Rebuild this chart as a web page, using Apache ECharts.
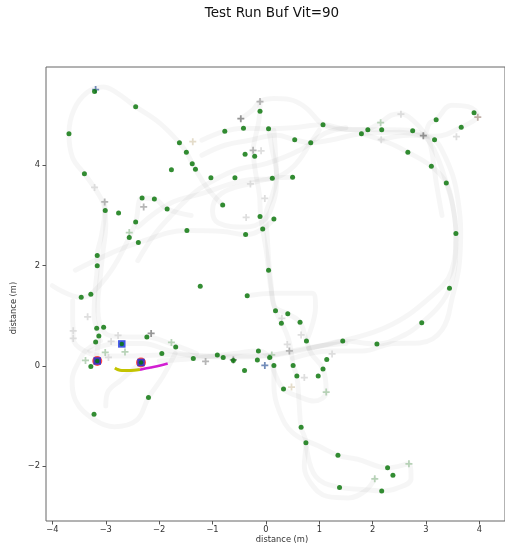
<!DOCTYPE html>
<html>
<head>
<meta charset="utf-8">
<script src="https://cdn.jsdelivr.net/npm/echarts@6/dist/echarts.min.js"></script>
<style>
  html, body { margin: 0; padding: 0; background: #fff; }
  #chart { width: 505px; height: 548px; }
</style>
</head>
<body>
<div id="chart"></div>
<script>
// Plot title and axis texts
const titleText = 'Test Run Buf Vit=90';
const xAxisName = 'distance (m)';
const yAxisName = 'distance (m)';
const xTicks = [-4, -3, -2, -1, 0, 1, 2, 3, 4];
const yTicks = [-2, 0, 2, 4];

// Detected landmarks (green dots), metres
const landmarks = [
  [-3.21,5.47],[-2.44,5.17],[-3.69,4.63],[-3.40,3.83],[-1.62,4.45],[-1.49,4.26],[-1.38,4.03],[-1.32,3.92],
  [-1.77,3.91],[-1.03,3.75],[-0.58,3.75],[-0.77,4.68],[-0.42,4.74],[-0.11,5.08],[0.05,4.73],[-0.39,4.22],
  [-0.21,4.18],[0.12,3.74],[-2.32,3.35],[-2.09,3.33],[-3.01,3.10],[-2.76,3.05],[-1.85,3.13],[-0.81,3.21],
  [-0.11,2.98],[0.54,4.51],[0.84,4.45],[1.07,4.81],[1.79,4.63],[1.91,4.71],[2.17,4.71],[2.75,4.69],
  [3.16,4.51],[2.66,4.26],[3.10,3.98],[3.38,3.65],[3.19,4.91],[3.66,4.76],[3.90,5.05],[0.50,3.76],
  [0.15,2.93],[-0.06,2.73],[-0.38,2.62],[-1.48,2.70],[-2.39,2.46],[0.05,1.91],[-1.23,1.59],[-0.35,1.40],
  [-2.44,2.87],[-2.56,2.56],[-3.16,2.20],[-3.16,2.00],[-3.46,1.37],[-3.28,1.43],
  [-3.17,0.75],[-3.04,0.77],[-3.13,0.60],[-3.19,0.48],[-3.28,-0.01],[-2.23,0.58],[-1.95,0.25],[-1.69,0.38],
  [-1.36,0.15],[-0.91,0.22],[-0.80,0.17],[-0.61,0.11],[-2.20,-0.63],[-3.22,-0.96],
  [0.18,1.10],[0.41,1.04],[0.29,0.85],[0.64,0.87],[0.76,0.50],[1.44,0.50],[-0.14,0.30],[-0.16,0.12],
  [0.07,0.17],[0.15,0.01],[-0.40,-0.09],[0.51,0.01],[0.58,-0.20],[0.33,-0.46],[1.14,0.13],[1.07,-0.06],
  [0.98,-0.20],[3.56,2.64],[3.44,1.55],[2.92,0.86],[2.08,0.44],
  [0.66,-1.22],[0.75,-1.53],[1.35,-1.78],[2.28,-2.03],[2.38,-2.18],[1.38,-2.42],[2.17,-2.49]
];

// Map features (crosses), grouped by tone
const featuresDark = [[-0.47,4.93],[2.95,4.59],[-2.15,0.65],[-0.61,0.12]];
const featuresMid = [[-0.11,5.27],[-0.24,4.30],[-3.02,3.27],[-2.29,3.17],[0.44,0.30],[-1.13,0.09]];
const featuresLight = [
  [-0.09,4.29],[-0.29,3.63],[-0.02,3.34],[-0.37,2.96],[2.53,5.02],[2.16,4.51],[3.57,4.57],[-3.21,3.56],
  [-3.34,0.98],[-3.61,0.70],[-3.61,0.55],[-2.77,0.61],[-2.90,0.49],[-2.95,0.17],[0.30,0.95],[0.66,0.62],
  [0.40,0.43],[1.24,0.24],[0.72,-0.23]
];
const featuresGreen = [[2.15,4.85],[-2.56,2.66],[-1.77,0.47],[-3.01,0.27],[-2.64,0.28],[-3.38,0.11],[0.11,0.22],[1.13,-0.52],[2.68,-1.95],[2.04,-2.25]];
const featuresBeige = [[-1.37,4.47],[0.48,-0.42]];
const featuresWarm = [[3.97,4.96]];
const featuresBlue = [[-3.19,5.51],[-0.02,0.01]];

// Current run: buffered segment and velocity segment
const bufferPath = [[-2.83,-0.04],[-2.78,-0.07],[-2.70,-0.09],[-2.59,-0.09],[-2.47,-0.085],[-2.36,-0.07]];
const velocityPath = [[-2.36,-0.075],[-2.26,-0.05],[-2.16,-0.03],[-1.98,0.01],[-1.84,0.05]];

// Robot poses and highlighted poses
const poses = [[-3.16,0.10],[-2.70,0.44],[-2.34,0.07]];
const highlighted = [[-3.16,0.10],[-2.34,0.07]];

// Past trajectories (metres)
const trajectories = [
  [[-0.8,3.2],[-1.1,3.55],[-1.32,3.92],[-1.49,4.26],[-1.62,4.45],[-2.0,4.85],[-2.44,5.17],[-2.8,5.45],[-3.05,5.56],[-3.35,5.45],[-3.6,5.1],[-3.69,4.63],[-3.62,4.15],[-3.40,3.83],[-3.15,3.45],[-3.02,3.1],[-3.08,2.6],[-3.16,2.2],[-3.16,2.0],[-3.2,1.5],[-3.22,1.0],[-3.17,0.75],[-3.13,0.6],[-3.16,0.3],[-3.2,0.1]],
  [[-3.3,0.3],[-2.8,0.45],[-2.3,0.45],[-1.8,0.3],[-1.3,0.2],[-0.6,0.18],[0.0,0.2],[0.6,0.3],[1.1,0.42],[1.44,0.5],[2.08,0.44],[2.6,0.62],[2.92,0.86],[3.25,1.2],[3.44,1.55],[3.55,2.1],[3.56,2.64],[3.5,3.2],[3.38,3.65],[3.2,4.2],[3.0,4.55],[2.75,4.69],[2.17,4.71],[1.5,4.72],[1.07,4.81],[0.5,4.75],[0.05,4.73],[-0.42,4.74],[-0.77,4.68],[-1.2,4.5]],
  [[0.5,0.15],[1.2,0.3],[1.8,0.3],[2.4,0.45],[2.88,0.46],[3.3,0.72],[3.5,1.4],[3.62,2.0],[3.65,2.7],[3.6,3.3],[3.5,3.8],[3.3,4.3],[3.16,4.51],[2.95,4.59],[2.5,4.66],[1.79,4.63],[1.2,4.5],[0.84,4.45],[0.54,4.51],[0.2,4.6],[-0.3,4.5],[-0.77,4.4],[-1.2,4.2]],
  [[1.79,4.63],[2.3,4.45],[2.66,4.26],[3.10,3.98],[3.38,3.65],[3.5,3.2],[3.56,2.64],[3.48,1.9],[3.0,1.3],[2.27,0.78],[1.44,0.50],[0.8,0.35]],
  [[2.16,4.51],[2.7,4.6],[2.95,4.59],[3.06,4.83],[3.19,4.91],[3.48,5.2],[3.79,5.17],[3.97,5.0],[3.66,4.76],[3.18,4.58],[2.9,4.6]],
  [[1.91,4.71],[2.15,4.85],[2.35,5.0],[2.53,5.03],[2.75,4.9],[3.0,4.6],[3.09,4.37],[3.2,3.6],[3.3,3.0]],
  [[-0.47,4.93],[-0.25,5.1],[-0.11,5.27],[0.15,5.33],[0.45,5.31],[0.75,5.15],[1.07,4.81],[1.4,4.72],[1.91,4.71]],
  [[-0.11,5.27],[-0.13,4.9],[-0.21,4.5],[-0.24,4.3],[-0.2,3.9],[-0.12,3.4],[-0.1,3.0],[-0.04,2.6],[0.02,2.2],[0.05,1.91],[0.1,1.5],[0.18,1.1],[0.3,0.85],[0.42,0.55],[0.48,0.25],[0.51,0.01],[0.58,-0.2],[0.62,-0.7],[0.66,-1.22],[0.75,-1.53],[0.72,-2.0],[0.85,-2.35],[1.15,-2.6],[1.54,-2.63],[1.85,-2.5],[2.04,-2.25]],
  [[0.05,4.73],[0.12,4.3],[0.2,3.8],[0.12,3.4],[0.0,3.0],[0.03,2.5],[0.06,2.0],[0.1,1.6],[0.15,1.2],[0.41,1.04],[0.64,0.87],[0.76,0.5],[0.85,0.25],[1.07,-0.06],[1.13,-0.52],[0.9,-0.7],[0.6,-0.6],[0.33,-0.46],[0.15,-0.1],[0.07,0.17],[-0.14,0.3],[-0.6,0.25],[-1.36,0.15],[-2.0,0.1]],
  [[0.15,0.0],[0.15,-0.4],[0.25,-0.9],[0.51,-1.34],[1.0,-1.6],[1.35,-1.78],[1.72,-1.86],[2.28,-2.03],[2.68,-1.95],[2.72,-2.25],[2.45,-2.44],[2.17,-2.49],[1.8,-2.46],[1.38,-2.42],[0.93,-2.2],[0.75,-1.53]],
  [[-2.4,2.1],[-2.1,2.6],[-1.8,2.97],[-1.5,3.3],[-1.19,3.57],[-0.58,3.9],[0.02,4.04],[0.63,4.3],[1.11,4.64],[1.5,4.75]],
  [[-2.4,2.77],[-1.8,3.24],[-1.19,3.44],[-0.4,3.7],[0.12,3.74],[0.51,3.97],[0.84,4.45],[1.0,4.7]],
  [[0.15,4.7],[0.18,4.24],[0.2,3.7],[0.15,3.3],[-0.04,2.9],[-0.4,2.77],[-0.89,2.85],[-1.0,3.1],[-0.83,3.44],[-0.28,3.64],[0.12,3.74],[0.5,3.76]],
  [[-3.57,1.91],[-2.9,2.25],[-2.39,2.46],[-1.48,2.70],[-0.8,2.68],[-0.38,2.62],[-0.06,2.73],[0.15,2.93]],
  [[-4.0,1.6],[-3.46,1.37],[-3.28,1.43],[-2.9,1.9],[-2.56,2.56],[-2.44,2.87],[-2.32,3.35],[-2.09,3.33],[-1.85,3.13],[-1.4,3.0]],
  [[-1.7,0.25],[-1.93,-0.21],[-2.2,-0.63],[-2.42,-1.08],[-2.84,-1.21],[-3.2,-1.08],[-3.57,-0.68],[-3.63,-0.28],[-3.5,0.1],[-3.38,0.3],[-3.1,0.5]],
  [[-2.3,0.1],[-2.72,-0.28],[-2.97,-0.54],[-3.0,-0.8]],
  [[-3.62,1.3],[-3.62,0.9],[-3.61,0.70],[-3.61,0.55],[-3.4,0.3],[-3.0,0.2],[-2.5,0.2],[-2.0,0.22],[-1.5,0.22],[-1.0,0.2],[-0.4,0.2],[0.1,0.22],[0.5,0.3],[1.0,0.4],[1.5,0.45]],
  [[-0.35,1.40],[0.15,1.45],[0.87,1.45],[0.93,1.18],[0.76,0.5]],
  [[-3.02,3.27],[-3.0,2.8],[-3.05,2.3],[-3.1,1.8],[-3.15,1.2],[-3.1,0.8],[-2.9,0.6],[-2.5,0.58],[-2.23,0.58],[-1.8,0.45],[-1.3,0.25]]
];

const FONT = 'DejaVu Sans';
const PLUS = 'path://M3,0H5V3H8V5H5V8H3V5H0V3H3Z';
const fmt = v => String(v).replace('-', '\u2212');

const series = [];
trajectories.forEach(p => series.push({
  type: 'line', data: p, smooth: 0.4, showSymbol: false, silent: true, z: 1,
  lineStyle: { width: 5, color: 'rgba(0,0,0,0.035)', cap: 'round', join: 'round' }
}));

function crosses(data, color) {
  return { type: 'scatter', data, symbol: PLUS, symbolSize: 7, silent: true, z: 3,
           itemStyle: { color } };
}
series.push(crosses(featuresLight, '#d6d6d6'));
series.push(crosses(featuresBeige, '#ddd3bd'));
series.push(crosses(featuresGreen, '#a6c8a6'));
series.push(crosses(featuresMid, '#a4a4a4'));
series.push(crosses(featuresDark, '#7c7c7c'));
series.push(crosses(featuresWarm, '#b39c92'));

series.push({ type: 'scatter', data: landmarks, symbol: 'circle', symbolSize: 5, silent: true, z: 4,
              itemStyle: { color: '#007000' } });
series.push(crosses(featuresBlue, '#4f6fa8'));

series.push({ type: 'line', data: bufferPath, smooth: 0.3, showSymbol: false, silent: true, z: 5,
              lineStyle: { width: 3, color: '#c4c400' } });
series.push({ type: 'line', data: velocityPath, smooth: 0.3, showSymbol: false, silent: true, z: 5,
              lineStyle: { width: 2.5, color: '#d21ed2' } });

series.push({ type: 'scatter', data: highlighted, symbol: 'circle', symbolSize: 10, silent: true, z: 6,
              itemStyle: { color: '#ff2020' } });
series.push({ type: 'scatter', data: poses, symbol: 'rect', symbolSize: 7.5, silent: true, z: 7,
              itemStyle: { color: '#1530e0' } });
series.push({ type: 'scatter', data: poses, symbol: 'circle', symbolSize: 4.5, silent: true, z: 8,
              itemStyle: { color: '#007800' } });

const chart = echarts.init(document.getElementById('chart'), null, { renderer: 'canvas' });
chart.setOption({
  animation: false,
  backgroundColor: '#ffffff',
  grid: { left: 46, top: 67, width: 472, height: 454, show: true, borderColor: '#666', borderWidth: 1,
          backgroundColor: 'transparent' },
  xAxis: {
    type: 'value', min: -4.12, max: 4.48,
    axisLine: { show: false, onZero: false },
    splitLine: { show: false },
    axisTick: { show: true, customValues: xTicks, length: 3.5, lineStyle: { color: '#555' } },
    axisLabel: { customValues: xTicks, formatter: fmt, fontFamily: FONT, fontSize: 8.3, color: '#333', margin: 5 }
  },
  yAxis: {
    type: 'value', min: -3.09, max: 5.96,
    axisLine: { show: false, onZero: false },
    splitLine: { show: false },
    axisTick: { show: true, customValues: yTicks, length: 3.5, lineStyle: { color: '#555' } },
    axisLabel: { customValues: yTicks, formatter: fmt, fontFamily: FONT, fontSize: 8.3, color: '#333', margin: 6 }
  },
  graphic: [
    { type: 'text', x: 272, y: 13, style: { text: titleText, font: '13.5px "DejaVu Sans"', fill: '#111',
      textAlign: 'center', textVerticalAlign: 'middle' } },
    { type: 'text', x: 282, y: 540, style: { text: xAxisName, font: '8.3px "DejaVu Sans"', fill: '#333',
      textAlign: 'center', textVerticalAlign: 'middle' } },
    { type: 'text', x: 14, y: 308, rotation: Math.PI / 2, style: { text: yAxisName, font: '8.3px "DejaVu Sans"', fill: '#333',
      textAlign: 'center', textVerticalAlign: 'middle' } }
  ],
  series
});
</script>
</body>
</html>
